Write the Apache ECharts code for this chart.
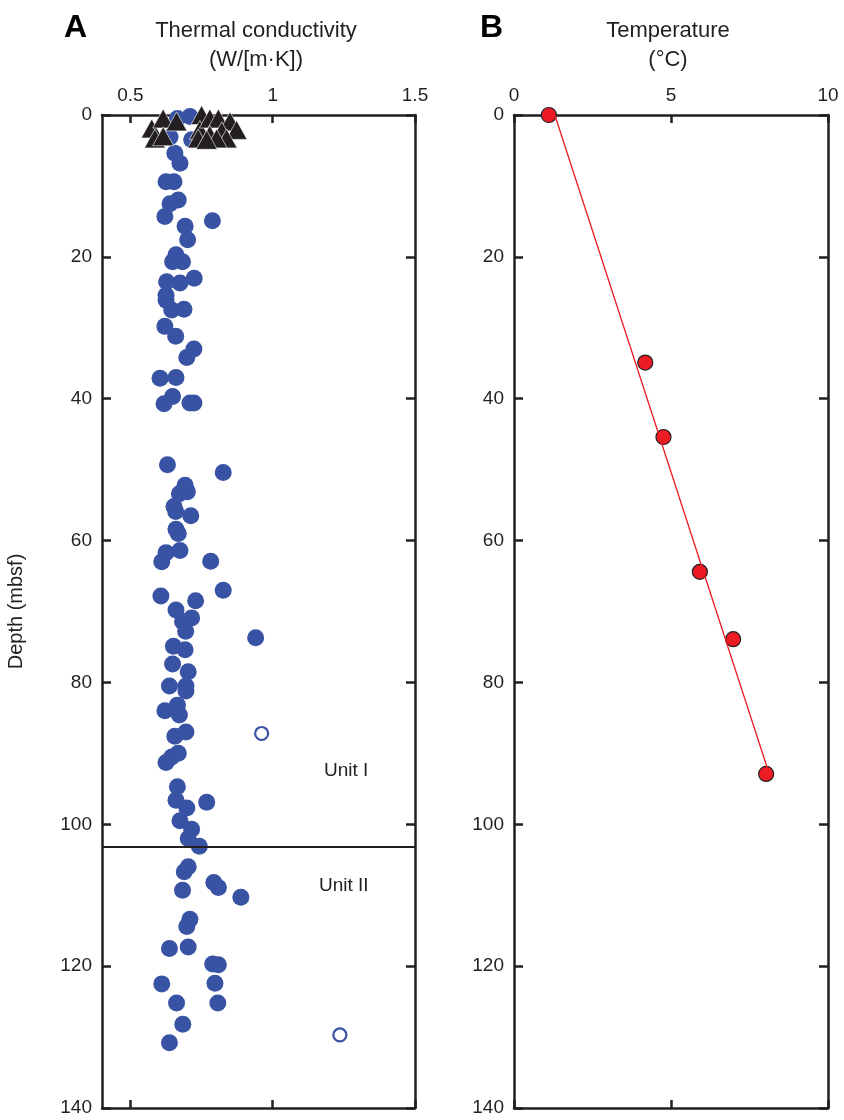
<!DOCTYPE html>
<html>
<head>
<meta charset="utf-8">
<script src="https://cdn.jsdelivr.net/npm/echarts@6/dist/echarts.min.js"></script>
<style>
  html, body { margin: 0; padding: 0; background: #fff; }
  #chart { width: 844px; height: 1120px; }
</style>
</head>
<body>
<div id="chart"></div>
<script>
// thermal conductivity, core samples (filled circles)
var tcValue = [0.665, 0.709, 0.639, 0.715, 0.656, 0.674, 0.625, 0.653, 0.668, 0.639,
  0.621, 0.788, 0.692, 0.701, 0.660, 0.648, 0.683,
  0.627, 0.674, 0.724, 0.625, 0.625, 0.645, 0.688, 0.621, 0.659, 0.723, 0.698,
  0.604, 0.660, 0.648, 0.618, 0.709, 0.723,
  0.630, 0.826, 0.692, 0.672, 0.700, 0.653, 0.659, 0.712, 0.660, 0.668, 0.625, 0.674,
  0.610, 0.782,
  0.826, 0.607, 0.729, 0.660, 0.715, 0.683, 0.694, 0.940, 0.651, 0.692, 0.648, 0.703,
  0.637, 0.695, 0.695, 0.665, 0.621, 0.672, 0.695, 0.656, 0.668, 0.645, 0.625,
  0.665, 0.660, 0.768, 0.698, 0.674, 0.715, 0.703, 0.742,
  0.703, 0.689, 0.793, 0.809, 0.683, 0.888, 0.709, 0.698, 0.703, 0.637, 0.789, 0.809,
  0.610, 0.797, 0.662, 0.807, 0.684, 0.637]
var tcDepth = [0.5, 0.2, 3.1, 3.5, 5.4, 6.8, 9.4, 9.4, 12.0, 12.5,
  14.3, 14.9, 15.7, 17.6, 19.7, 20.7, 20.7,
  23.5, 23.7, 23.0, 25.4, 26.1, 27.5, 27.4, 29.8, 31.2, 33.0, 34.2,
  37.1, 37.0, 39.7, 40.7, 40.6, 40.6,
  49.3, 50.4, 52.2, 53.4, 53.1, 55.2, 55.9, 56.5, 58.4, 59.0, 61.7, 61.4,
  63.0, 62.9,
  67.0, 67.8, 68.5, 69.8, 70.9, 71.4, 72.8, 73.7, 74.9, 75.4, 77.4, 78.5,
  80.5, 80.5, 81.2, 83.2, 84.0, 84.6, 87.0, 87.6, 90.0, 90.5, 91.3,
  94.7, 96.6, 96.9, 97.7, 99.5, 100.7, 102.0, 103.1,
  106.0, 106.7, 108.2, 108.9, 109.3, 110.3, 113.4, 114.4, 117.3, 117.5, 119.7, 119.8,
  122.5, 122.4, 125.2, 125.2, 128.2, 130.8]

// suspect measurements (open circles)
var tcOpenValue = [0.961, 1.236]
var tcOpenDepth = [87.2, 129.7]

// near-surface measurements (triangles)
var triValue = [0.575, 0.615, 0.586, 0.615, 0.662, 0.750, 0.744, 0.779, 0.738, 0.809,
  0.779, 0.850, 0.821, 0.873, 0.838, 0.803, 0.768]
var triDepth = [1.9, 0.5, 3.3, 3.0, 0.9, 0.0, 2.1, 0.5, 3.3, 0.5,
  2.8, 0.9, 2.3, 2.1, 3.3, 3.3, 3.5]

// formation temperature
var tempValue = [1.11, 4.18, 4.76, 5.92, 6.98, 8.03]
var tempDepth = [0.0, 34.9, 45.4, 64.4, 73.9, 92.9]
var fitTemp = [1.3, 8.13]
var fitDepth = [0.0, 92.9]

var unitBoundary = 103.2
var tcTicks = [0.5, 1, 1.5]

var ink = '#231f20'
var blue = '#3953a4'
var red = '#ed1c24'
var font = 'Liberation Sans, Arial, sans-serif'

function zip (xs, ys) {
  return xs.map(function (x, i) { return [x, ys[i]] })
}

var chart = echarts.init(document.getElementById('chart'), null, { renderer: 'canvas' })

function xAxis (grid, side, min, max, extra) {
  var ax = {
    gridIndex: grid,
    type: 'value',
    position: side,
    min: min,
    max: max,
    axisLine: { show: true, onZero: false, lineStyle: { color: ink, width: 2.5 } },
    axisTick: { show: true, inside: true, length: 8, lineStyle: { color: ink, width: 2.5 } },
    axisLabel: { show: side === 'top', color: ink, fontSize: 19, fontFamily: font, margin: 10 },
    splitLine: { show: false }
  }
  if (extra.interval) ax.interval = extra.interval
  if (extra.ticks) {
    ax.axisTick.customValues = extra.ticks
    ax.axisLabel.customValues = extra.ticks
  }
  return ax
}
function yAxis (grid, side, labels) {
  return {
    gridIndex: grid,
    type: 'value',
    position: side,
    inverse: true,
    min: 0,
    max: 140,
    interval: 20,
    name: (labels && grid === 0) ? 'Depth (mbsf)' : '',
    nameLocation: 'middle',
    nameGap: 76,
    nameTextStyle: { color: ink, fontSize: 20, fontFamily: font },
    axisLine: { show: true, onZero: false, lineStyle: { color: ink, width: 2.5 } },
    axisTick: { show: true, inside: true, length: 9, lineStyle: { color: ink, width: 2.5 } },
    axisLabel: { show: labels, color: ink, fontSize: 19, fontFamily: font, margin: 10 },
    splitLine: { show: false }
  }
}

var option = {
  animation: false,
  backgroundColor: '#fff',
  grid: [
    { left: 102, top: 115, width: 313, height: 993 },
    { left: 514, top: 115, width: 314, height: 993 }
  ],
  xAxis: [
    xAxis(0, 'top', 0.4, 1.5, { ticks: tcTicks }),
    xAxis(0, 'bottom', 0.4, 1.5, { ticks: tcTicks }),
    xAxis(1, 'top', 0, 10, { interval: 5 }),
    xAxis(1, 'bottom', 0, 10, { interval: 5 })
  ],
  yAxis: [
    yAxis(0, 'left', true),
    yAxis(0, 'right', false),
    yAxis(1, 'left', true),
    yAxis(1, 'right', false)
  ],
  graphic: [
    { type: 'text', left: 64, top: 12, style: { text: 'A', font: 'bold 32px ' + font, fill: '#000' } },
    { type: 'text', left: 480, top: 12, style: { text: 'B', font: 'bold 32px ' + font, fill: '#000' } },
    { type: 'text', x: 256, y: 16, style: { text: 'Thermal conductivity\n(W/[m·K])', font: '22px ' + font, fill: ink, align: 'center', lineHeight: 29 } },
    { type: 'text', x: 668, y: 16, style: { text: 'Temperature\n(°C)', font: '22px ' + font, fill: ink, align: 'center', lineHeight: 29 } },
    { type: 'text', x: 324, y: 761, style: { text: 'Unit I', font: '19px ' + font, fill: ink } },
    { type: 'text', x: 319, y: 876, style: { text: 'Unit II', font: '19px ' + font, fill: ink } }
  ],
  series: [
    {
      type: 'scatter',
      xAxisIndex: 0,
      yAxisIndex: 0,
      symbol: 'circle',
      symbolSize: 17,
      itemStyle: { color: blue, opacity: 1 },
      data: zip(tcValue, tcDepth),
      markLine: {
        silent: true,
        symbol: 'none',
        label: { show: false },
        lineStyle: { color: ink, width: 2, type: 'solid' },
        data: [{ yAxis: unitBoundary }]
      }
    },
    {
      type: 'scatter',
      xAxisIndex: 0,
      yAxisIndex: 0,
      symbol: 'circle',
      symbolSize: 13,
      itemStyle: { color: '#fff', borderColor: blue, borderWidth: 2.2, opacity: 1 },
      data: zip(tcOpenValue, tcOpenDepth)
    },
    {
      type: 'scatter',
      xAxisIndex: 0,
      yAxisIndex: 0,
      symbol: 'triangle',
      symbolSize: [21, 19],
      itemStyle: { color: ink, opacity: 1, borderColor: '#fff', borderWidth: 0.6 },
      data: zip(triValue, triDepth)
    },
    {
      type: 'line',
      xAxisIndex: 2,
      yAxisIndex: 2,
      symbol: 'none',
      lineStyle: { color: red, width: 1.3 },
      data: zip(fitTemp, fitDepth)
    },
    {
      type: 'scatter',
      xAxisIndex: 2,
      yAxisIndex: 2,
      symbol: 'circle',
      symbolSize: 15,
      itemStyle: { color: red, borderColor: ink, borderWidth: 1.2, opacity: 1 },
      data: zip(tempValue, tempDepth)
    }
  ]
}

chart.setOption(option)
</script>
</body>
</html>
